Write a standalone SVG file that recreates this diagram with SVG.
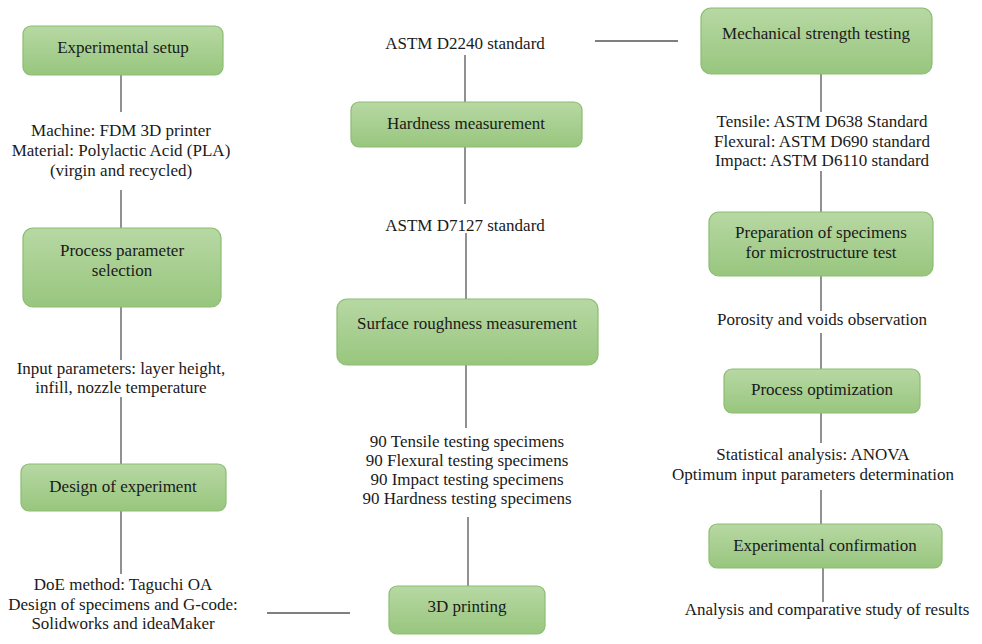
<svg xmlns="http://www.w3.org/2000/svg" width="982" height="644" viewBox="0 0 982 644">
<defs>
<linearGradient id="g" x1="0" y1="0" x2="0" y2="1">
<stop offset="0" stop-color="#b7d8a3"/>
<stop offset="1" stop-color="#98c67e"/>
</linearGradient>
<style>
.box{fill:url(#g);stroke:#8cbd72;stroke-width:1.2}
text{font-family:"Liberation Serif","Times New Roman",serif;font-size:17px;fill:#1a1a1a;text-anchor:middle}
.c line{stroke:#555;stroke-width:1.3}
</style>
</defs>
<rect width="982" height="644" fill="#fff"/>
<g class="c" id="connectors">
<line x1="121" y1="75" x2="121" y2="112"/>
<line x1="121" y1="190" x2="121" y2="228"/>
<line x1="121" y1="307" x2="121" y2="360"/>
<line x1="121" y1="397" x2="121" y2="464"/>
<line x1="121" y1="511" x2="121" y2="574"/>
<line x1="267" y1="613" x2="350" y2="613"/>
<line x1="468" y1="517" x2="468" y2="586"/>
<line x1="466" y1="428" x2="466" y2="365"/>
<line x1="466" y1="299" x2="466" y2="233"/>
<line x1="465" y1="204" x2="465" y2="147"/>
<line x1="465" y1="102" x2="465" y2="55"/>
<line x1="595" y1="41" x2="678" y2="41"/>
<line x1="821" y1="74" x2="821" y2="112"/>
<line x1="821" y1="171" x2="821" y2="212"/>
<line x1="821" y1="276" x2="821" y2="311"/>
<line x1="821" y1="333" x2="821" y2="369"/>
<line x1="821" y1="413" x2="821" y2="443"/>
<line x1="821" y1="490" x2="821" y2="524"/>
<line x1="823" y1="568" x2="823" y2="602"/>
</g>
<g id="experimental-setup"><rect class="box" x="23" y="26" width="200" height="49" rx="8"/><text x="123" y="53">Experimental setup</text></g>
<g id="setup-notes"><text x="121" y="136">Machine: FDM 3D printer</text><text x="121" y="156">Material: Polylactic Acid (PLA)</text><text x="121" y="176">(virgin and recycled)</text></g>
<g id="process-parameter"><rect class="box" x="23" y="228" width="198" height="79" rx="10"/><text x="122" y="256">Process parameter</text><text x="122" y="276">selection</text></g>
<g id="parameter-notes"><text x="121" y="374">Input parameters: layer height,</text><text x="121" y="393">infill, nozzle temperature</text></g>
<g id="design-experiment"><rect class="box" x="21" y="464" width="205" height="47" rx="8"/><text x="123" y="492">Design of experiment</text></g>
<g id="doe-notes"><text x="123" y="590">DoE method: Taguchi OA</text><text x="123" y="610">Design of specimens and G-code:</text><text x="123" y="629">Solidworks and ideaMaker</text></g>
<g id="printing"><rect class="box" x="389" y="586" width="156" height="48" rx="8"/><text x="467" y="612">3D printing</text></g>
<g id="specimen-notes"><text x="467" y="447">90 Tensile testing specimens</text><text x="467" y="466">90 Flexural testing specimens</text><text x="467" y="485">90 Impact testing specimens</text><text x="467" y="504">90 Hardness testing specimens</text></g>
<g id="surface-roughness"><rect class="box" x="337" y="299" width="261" height="66" rx="10"/><text x="467" y="329">Surface roughness measurement</text></g>
<g id="d7127"><text x="465" y="231">ASTM D7127 standard</text></g>
<g id="hardness"><rect class="box" x="351" y="102" width="231" height="45" rx="8"/><text x="466" y="129">Hardness measurement</text></g>
<g id="d2240"><text x="465" y="49">ASTM D2240 standard</text></g>
<g id="mechanical"><rect class="box" x="701" y="8" width="231" height="66" rx="10"/><text x="816" y="39">Mechanical strength testing</text></g>
<g id="mechanical-notes"><text x="822" y="127">Tensile: ASTM D638 Standard</text><text x="822" y="147">Flexural: ASTM D690 standard</text><text x="822" y="166">Impact: ASTM D6110 standard</text></g>
<g id="preparation"><rect class="box" x="709" y="212" width="224" height="64" rx="10"/><text x="821" y="238">Preparation of specimens</text><text x="821" y="258">for microstructure test</text></g>
<g id="porosity"><text x="822" y="325">Porosity and voids observation</text></g>
<g id="optimization"><rect class="box" x="724" y="369" width="196" height="44" rx="8"/><text x="822" y="395">Process optimization</text></g>
<g id="optimization-notes"><text x="813" y="460">Statistical analysis: ANOVA</text><text x="813" y="480">Optimum input parameters determination</text></g>
<g id="confirmation"><rect class="box" x="709" y="524" width="233" height="44" rx="8"/><text x="825" y="551">Experimental confirmation</text></g>
<g id="results"><text x="827" y="615">Analysis and comparative study of results</text></g>
</svg>
